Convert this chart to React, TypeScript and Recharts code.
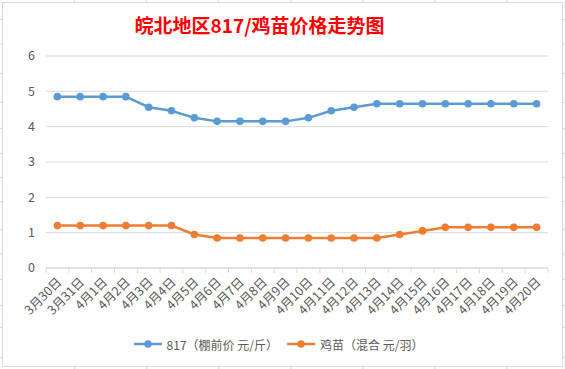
import React from 'react';
import { LineChart, Line, XAxis, YAxis, CartesianGrid, Legend } from 'recharts';

const categories = ['3月30日', '3月31日', '4月1日', '4月2日', '4月3日', '4月4日', '4月5日', '4月6日', '4月7日', '4月8日', '4月9日', '4月10日', '4月11日', '4月12日', '4月13日', '4月14日', '4月15日', '4月16日', '4月17日', '4月18日', '4月19日', '4月20日'];
const price817 = [4.85, 4.85, 4.85, 4.85, 4.55, 4.45, 4.25, 4.15, 4.15, 4.15, 4.15, 4.25, 4.45, 4.55, 4.65, 4.65, 4.65, 4.65, 4.65, 4.65, 4.65, 4.65];
const chickPrice = [1.2, 1.2, 1.2, 1.2, 1.2, 1.2, 0.95, 0.85, 0.85, 0.85, 0.85, 0.85, 0.85, 0.85, 0.85, 0.95, 1.05, 1.15, 1.15, 1.15, 1.15, 1.15];
const yTicks = [0, 1, 2, 3, 4, 5, 6];
const titleText = '皖北地区817/鸡苗价格走势图';
const series817Name = '817（棚前价 元/斤）';
const seriesChickName = '鸡苗（混合 元/羽）';

const data = categories.map((c, i) => ({ name: c, p817: price817[i], chick: chickPrice[i] }));

const W = 565;
const H = 369;
const MARGIN = { top: 56, right: 17, left: 6, bottom: 31 };
const Y_AXIS_W = 40;
const PLOT_W = W - MARGIN.left - MARGIN.right - Y_AXIS_W;
const BAND = PLOT_W / categories.length;
const FONT = '"Noto Sans CJK SC", "Noto Sans", sans-serif';
const GRID = '#d9d9d9';
const TEXT = '#595959';
const BLUE = '#5b9bd5';
const ORANGE = '#ed7d31';

const cellColX = [74.6, 146.7, 218.7, 290.8, 362.9, 435, 507];
const cellRowY = [19.3, 44, 73.3, 102.3, 128.3, 153.3, 177.3, 201.7, 229.3, 254, 279.3, 305.3, 327.3, 357.3];

const XTick = (props: any) => {
  const { x, y, payload, index } = props;
  const half = BAND / 2;
  const isLast = payload && payload.value === categories[categories.length - 1];
  const tx = x + 5;
  const ty = y + 15;
  return (
    <g>
      <line x1={x - half} y1={y} x2={x - half} y2={y + 5} stroke={GRID} />
      {isLast ? <line x1={x + half} y1={y} x2={x + half} y2={y + 5} stroke={GRID} /> : null}
      <text
        x={tx}
        y={ty}
        transform={`rotate(-45 ${tx} ${ty})`}
        textAnchor="end"
        fontSize={12.5}
        fill={TEXT}
        fontFamily={FONT}
        key={index}
      >
        {payload.value}
      </text>
    </g>
  );
};

const LegendContent = (props: any) => {
  const { payload } = props;
  return (
    <div
      style={{
        display: 'flex',
        justifyContent: 'center',
        alignItems: 'center',
        height: 20,
        fontSize: 12,
        color: TEXT,
        fontFamily: FONT,
        paddingRight: 8,
        whiteSpace: 'nowrap',
      }}
    >
      {(payload || []).map((p: any, i: number) => (
        <div key={i} style={{ display: 'flex', alignItems: 'center', marginLeft: i === 0 ? 0 : 9 }}>
          <svg width={28} height={10} style={{ display: 'block' }}>
            <line x1={0} y1={5} x2={28} y2={5} stroke={p.color} strokeWidth={2.5} />
            <circle cx={14} cy={5} r={3.8} fill={p.color} />
          </svg>
          <span style={{ marginLeft: 5 }}>{p.value}</span>
        </div>
      ))}
    </div>
  );
};

export default function App() {
  return (
    <div style={{ position: 'absolute', left: 0, top: 0, width: W, height: H, background: '#fff', overflow: 'hidden' }}>
      <svg width={W} height={H} style={{ position: 'absolute', left: 0, top: 0 }}>
        {cellColX.map((cx, i) => (
          <g key={'c' + i}>
            <line x1={cx} y1={0} x2={cx} y2={2} stroke="#d4d4d4" />
            <line x1={cx} y1={367} x2={cx} y2={369} stroke="#d4d4d4" />
          </g>
        ))}
        {cellRowY.map((ry, i) => (
          <g key={'r' + i}>
            <line x1={0} y1={ry} x2={2} y2={ry} stroke="#d4d4d4" />
            <line x1={563} y1={ry} x2={565} y2={ry} stroke="#d4d4d4" />
          </g>
        ))}
        <rect x={2.5} y={2.5} width={560} height={364} fill="#fff" stroke={GRID} />
      </svg>
      <div
        style={{
          position: 'absolute',
          left: 0,
          top: 15,
          width: 519,
          textAlign: 'center',
          fontFamily: FONT,
          fontWeight: 'bold',
          fontSize: 19,
          lineHeight: '19px',
          color: '#ff0000',
          whiteSpace: 'nowrap',
        }}
      >
        {titleText}
      </div>
      <div style={{ position: 'absolute', left: 0, top: 0 }}>
        <LineChart width={W} height={H} data={data} margin={MARGIN}>
          <CartesianGrid vertical={false} stroke={GRID} />
          <XAxis
            dataKey="name"
            scale="band"
            interval={0}
            height={50}
            tickLine={false}
            tickSize={0}
            tickMargin={0}
            axisLine={{ stroke: GRID }}
            tick={<XTick />}
          />
          <YAxis
            domain={[0, 6]}
            ticks={yTicks}
            width={Y_AXIS_W}
            axisLine={false}
            tickLine={false}
            tickSize={0}
            tickMargin={11}
            tick={{ fontSize: 12.5, fill: TEXT, fontFamily: FONT }}
          />
          <Legend
            content={<LegendContent />}
            wrapperStyle={{ top: 334, bottom: 'auto', left: 0, width: W }}
          />
          <Line
            type="linear"
            dataKey="p817"
            name={series817Name}
            stroke={BLUE}
            strokeWidth={2.5}
            dot={{ r: 3.8, fill: BLUE, stroke: BLUE, strokeWidth: 0 }}
            activeDot={false}
            isAnimationActive={false}
          />
          <Line
            type="linear"
            dataKey="chick"
            name={seriesChickName}
            stroke={ORANGE}
            strokeWidth={2.5}
            dot={{ r: 3.8, fill: ORANGE, stroke: ORANGE, strokeWidth: 0 }}
            activeDot={false}
            isAnimationActive={false}
          />
        </LineChart>
      </div>
    </div>
  );
}
